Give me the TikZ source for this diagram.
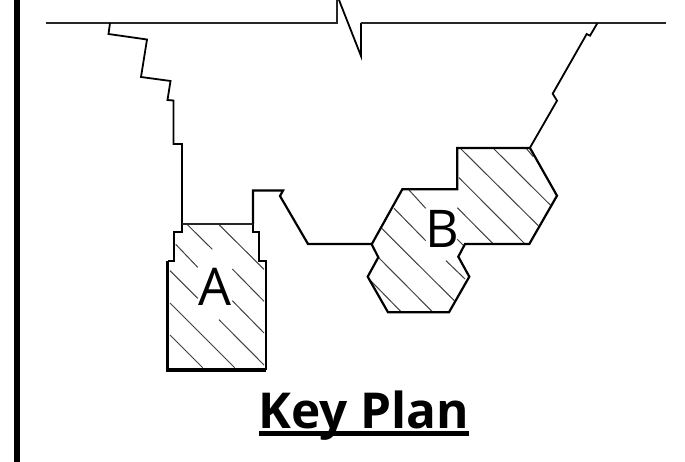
\documentclass[tikz,border=0pt]{standalone}
\usepackage{fontspec}
\setmainfont{Open Sans}
\tikzset{
  thinwall/.style={line width=1.8pt,black,line join=miter},
  wall/.style={line width=2.2pt,black,line join=miter},
  heavywall/.style={line width=3.4pt,black,line cap=square},
  hatchline/.style={line width=1pt,black!75},
  datum/.style={line width=1.8pt,black!85},
  label/.style={inner sep=0pt,anchor=center,font=\fontsize{52}{52}\selectfont},
  titletext/.style={inner sep=0pt,anchor=base,font=\fontsize{49.5}{50}\selectfont\bfseries}
}
\begin{document}
\begin{tikzpicture}[x=1pt,y=-1pt]
\useasboundingbox (0,0) rectangle (685,462);
\fill[white] (0,0) rectangle (685,462);
% left border
\fill[black] (14,0) rectangle (19.5,462);
% hatching A
\foreach \a/\b/\c/\d in {187.7/225/212.3/249.3,219.3/225/264/269.3,175.7/244.3/197.7/267.3,232.3/269/264/301.3,170/270.7/197.7/298.3,232.3/300.7/264/333,170/303/234.7/367.7,219/319.7/264/365,170/335/202.7/367.7}
  \draw[hatchline] (\a,\b) -- (\c,\d);
% hatching B
\foreach \a/\b/\c/\d in {409/190/425.7/208.3,394/208.3/425.7/240.7,382/228.7/454.3/300.7,378.3/257.3/432.3/311.7,370/280/401/311.7,461/149/538.3/225.7,494/149/551/205.7,459/177.7/525/244,457.3/207.7/493.3/244,457.3/239.3/463/245,446/260.7/465/279,526.7/149/533.3/156.7}
  \draw[hatchline] (\a,\b) -- (\c,\d);
% datum line with break
\draw[datum] (46,23) -- (337,23) -- (337,0);
\draw[thinwall] (339,0) -- (361,56) -- (361,23);
\draw[datum] (361,23) -- (666,23);
% left jagged wall
\draw[thinwall] (110,23) -- (108.5,34) -- (147,39.5) -- (141,77) -- (170.5,81) -- (167.5,100) -- (173.5,100.5) -- (173.5,144) -- (182,144) -- (182,224);
% link between A and B
\draw[wall] (253,224) -- (253,190.5) -- (283,190.5) -- (280,196) -- (308,244) -- (372,244);
% right jagged wall
\draw[thinwall] (597.3,23.3) -- (590,35.7) -- (586.7,34) -- (552.7,93.7) -- (557,100.7) -- (529.8,148);
% block A
\draw[wall] (182,224) -- (182,232) -- (174,232) -- (174,261) -- (167.5,261);
\draw[wall] (253,224) -- (253,232) -- (259,232) -- (259,261) -- (266,261) -- (266,370);
\draw[line width=2.8pt,black!85] (182,224) -- (253,224);
\draw[heavywall] (167.5,261) -- (167.5,370) -- (266,370);
% block B
\draw[wall] (371.7,244.3) -- (402.3,189.3) -- (457.3,189.3) -- (457.3,148) -- (530,148) -- (557,195.7) -- (529.3,244) -- (465,244) -- (458.3,256.7) -- (469.3,276.7) -- (449,312.3) -- (388,312.3) -- (367.7,276.7) -- (378.3,257.3) -- cycle;
% labels
\node[label] (labelA) at (215,287) {A};
\node[label] (labelB) at (442,229) {B};
\node[titletext] (title) at (364,428) {Key Plan};
\fill[black] (259,431) rectangle (469,435.5);
\end{tikzpicture}
\end{document}
